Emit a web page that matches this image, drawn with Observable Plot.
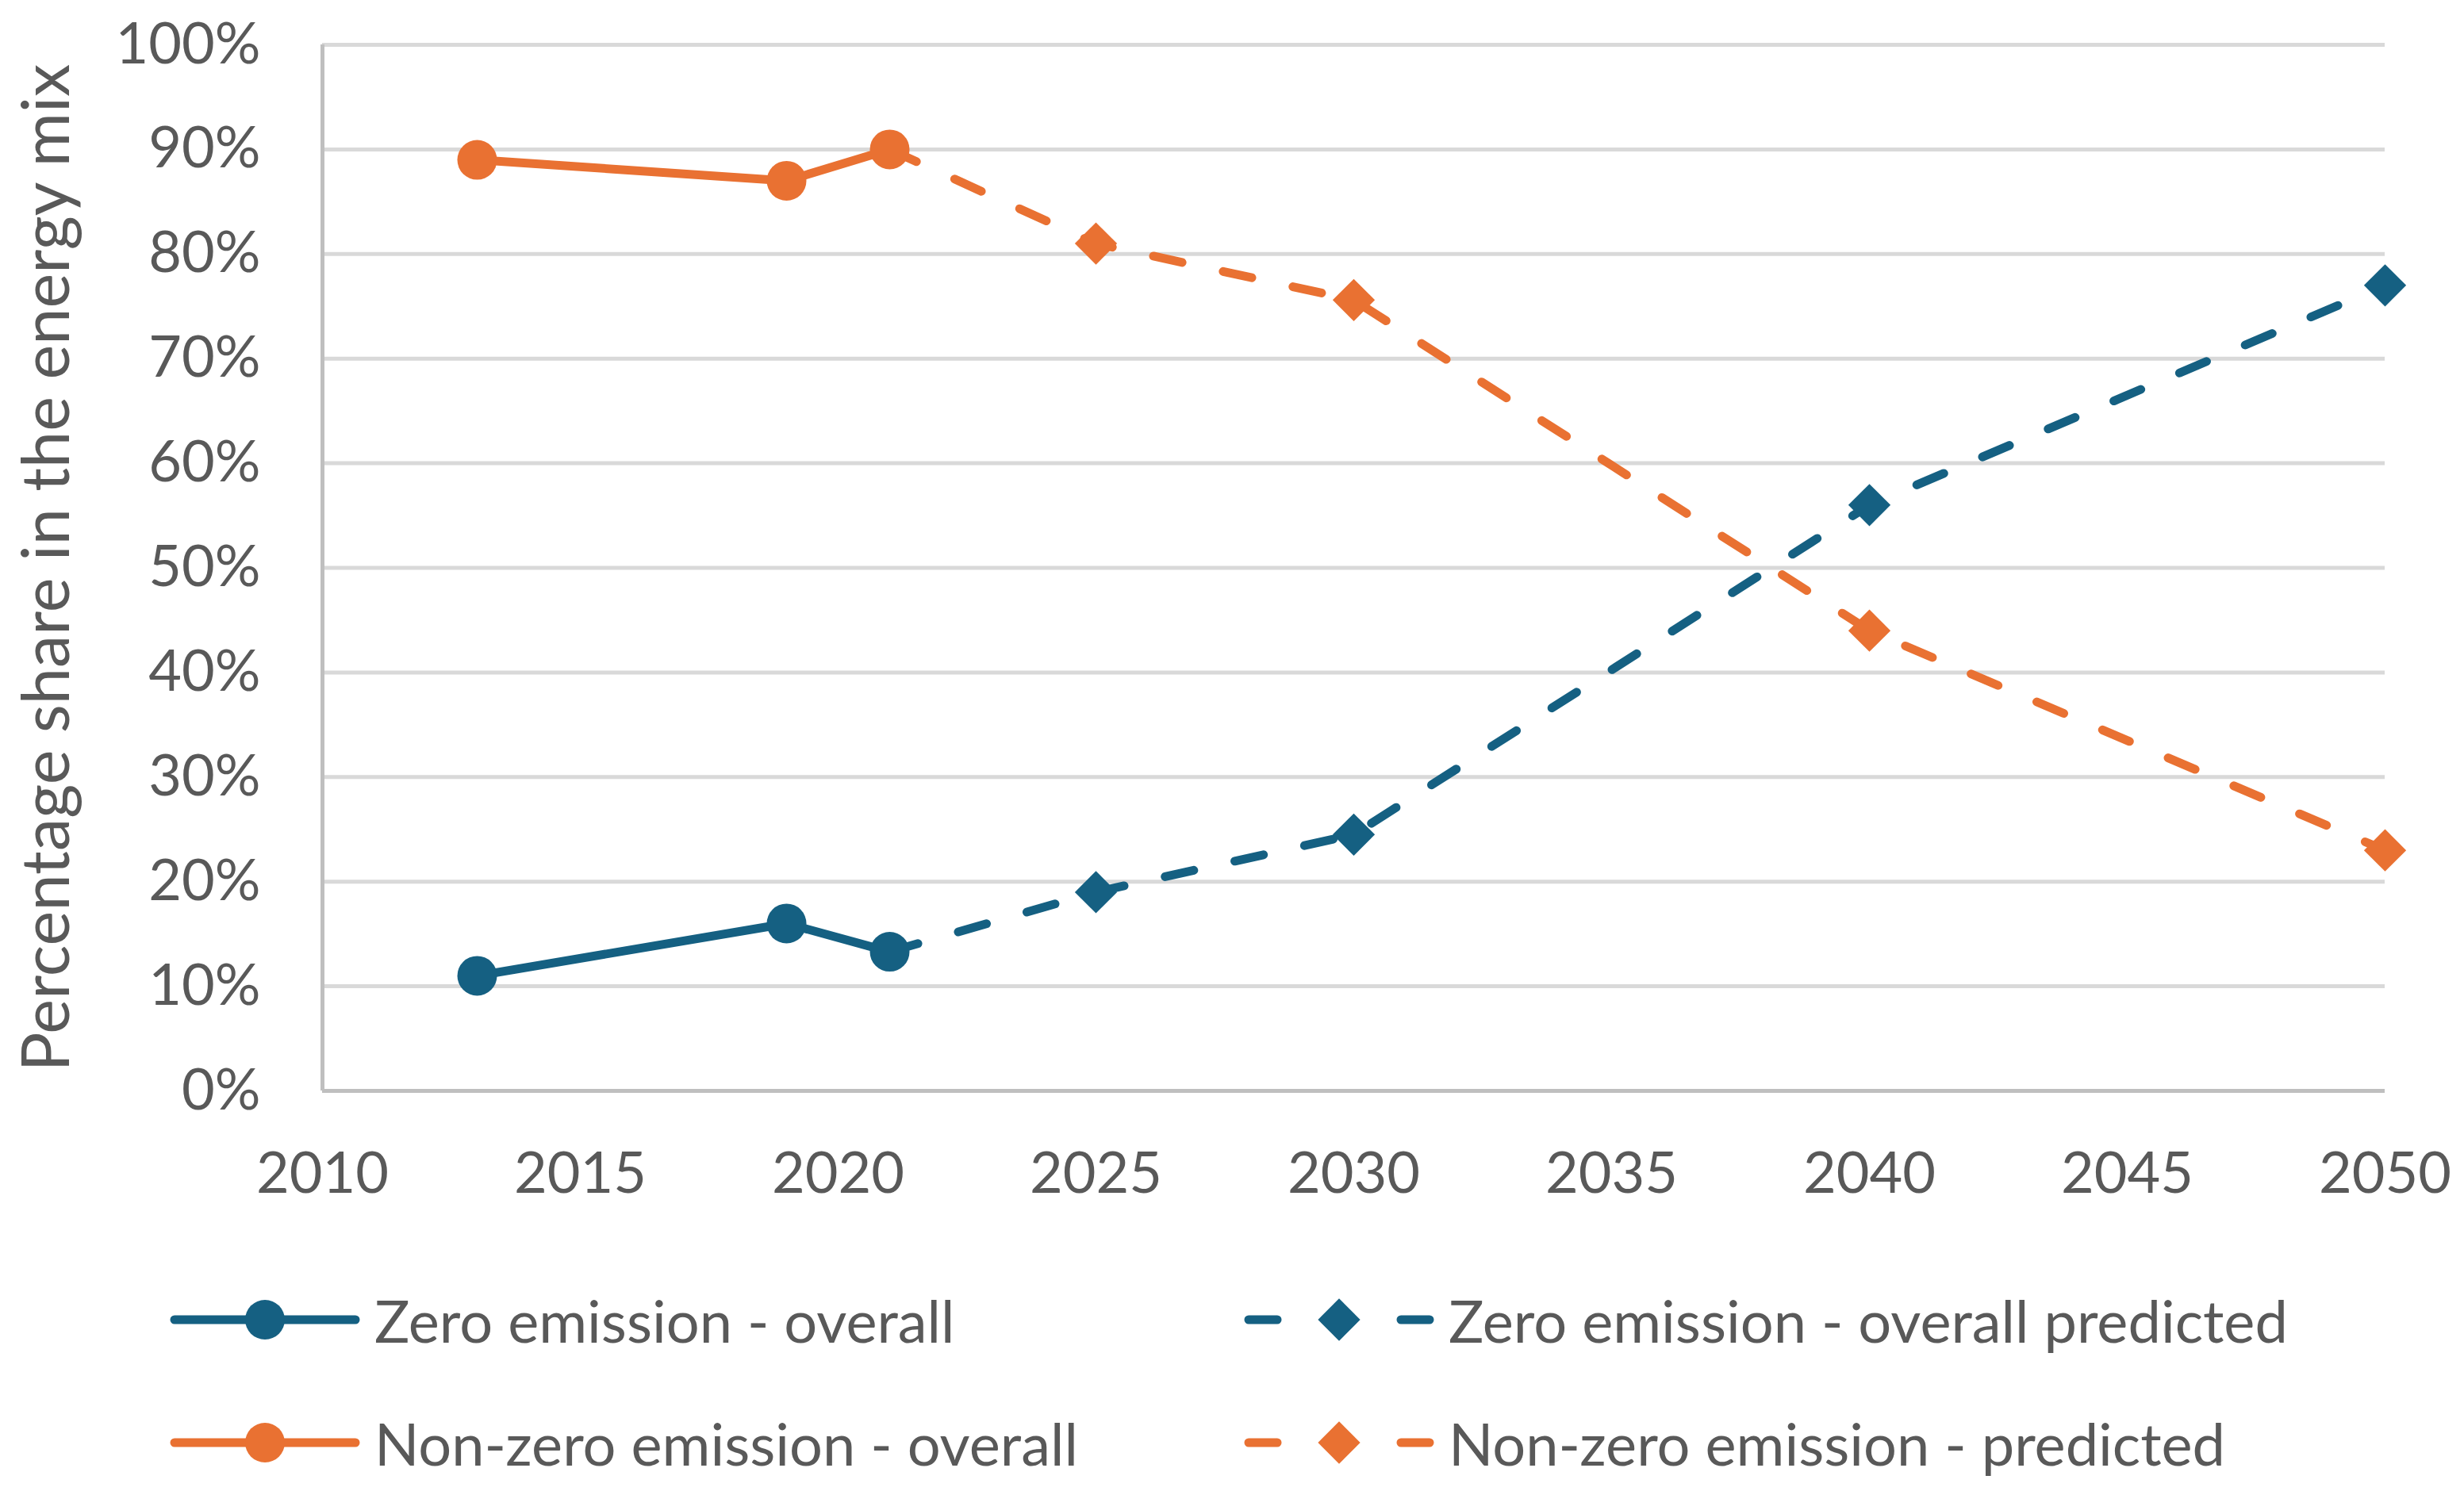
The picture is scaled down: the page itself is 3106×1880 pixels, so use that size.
<!DOCTYPE html>
<html>
<head>
<meta charset="utf-8">
<script src="https://cdn.jsdelivr.net/npm/d3@7"></script>
<script src="https://cdn.jsdelivr.net/npm/@observablehq/plot@0.6"></script>
<style>
  html, body { margin: 0; padding: 0; background: #fff; overflow: hidden; }
  #wrap { position: relative; width: 3106px; height: 1880px; font-family: Lato, "Open Sans", sans-serif; color: #595959; }
  #chart svg { display: block; }
  .leg { position: absolute; display: flex; align-items: center; height: 100px; font-size: 74px; white-space: nowrap; }
  .leg svg { display: block; }
</style>
</head>
<body>
<div id="wrap">
  <div id="chart"></div>
  <div id="legend"></div>
</div>
<script>
// ---- data ----
const yearsOverall = [2013, 2019, 2021];
const zeroOverall = [11, 16, 13.3];
const nonZeroOverall = [89, 87, 90];
const yearsPredicted = [2021, 2025, 2030, 2040, 2050];
const zeroPredicted = [13.3, 19, 24.5, 56, 77];
const nonZeroPredicted = [90, 81, 75.6, 44, 23];
const xTicks = [2010, 2015, 2020, 2025, 2030, 2035, 2040, 2045, 2050];
const yTicks = [0, 10, 20, 30, 40, 50, 60, 70, 80, 90, 100];
const seriesNames = [
  "Zero emission - overall",
  "Zero emission - overall predicted",
  "Non-zero emission - overall",
  "Non-zero emission - predicted"
];
const yTitle = "Percentage share in the energy mix";
const blue = "#156082";
const orange = "#E97132";

const toRows = (xs, ys) => xs.map((x, i) => ({x, y: ys[i]}));
const zo = toRows(yearsOverall, zeroOverall);
const zp = toRows(yearsPredicted, zeroPredicted);
const no = toRows(yearsOverall, nonZeroOverall);
const np = toRows(yearsPredicted, nonZeroPredicted);
const notFirst = (d, i) => i > 0;

const lw = 11;
const dash = "37,53";

const chart = Plot.plot({
  width: 3106,
  height: 1560,
  marginLeft: 406,
  marginRight: 100,
  marginTop: 56,
  marginBottom: 185,
  style: {fontSize: "72px", fontFamily: "Lato, 'Open Sans', sans-serif", color: "#595959", background: "#fff"},
  x: {domain: [2010, 2050]},
  y: {domain: [0, 100]},
  marks: [
    Plot.gridY(yTicks.filter(d => d > 0), {stroke: "#d9d9d9", strokeOpacity: 1, strokeWidth: 5}),
    Plot.ruleX([2010], {stroke: "#bfbfbf", strokeWidth: 5}),
    Plot.ruleY([0], {stroke: "#bfbfbf", strokeWidth: 5}),
    Plot.line(zo, {x: "x", y: "y", stroke: blue, strokeWidth: lw, strokeLinecap: "round"}),
    Plot.line(zp, {x: "x", y: "y", stroke: blue, strokeWidth: lw, strokeDasharray: dash, strokeLinecap: "round"}),
    Plot.line(no, {x: "x", y: "y", stroke: orange, strokeWidth: lw, strokeLinecap: "round"}),
    Plot.line(np, {x: "x", y: "y", stroke: orange, strokeWidth: lw, strokeDasharray: dash, strokeLinecap: "round"}),
    Plot.dot(zo, {x: "x", y: "y", r: 25, fill: blue, stroke: null}),
    Plot.dot(zp.filter(notFirst), {x: "x", y: "y", r: 24, symbol: "diamond2", fill: blue, stroke: null}),
    Plot.dot(no, {x: "x", y: "y", r: 25, fill: orange, stroke: null}),
    Plot.dot(np.filter(notFirst), {x: "x", y: "y", r: 24, symbol: "diamond2", fill: orange, stroke: null}),
    Plot.axisX({ticks: xTicks, tickSize: 0, tickPadding: 77, tickFormat: d => String(d), label: null}),
    Plot.axisY({ticks: yTicks, tickSize: 0, tickPadding: 78, tickFormat: d => d + "%", label: null}),
    Plot.axisY({ticks: [], tickSize: 0, fontSize: 83, label: yTitle, labelAnchor: "center", labelOffset: 378, labelArrow: false})
  ]
});
document.getElementById("chart").appendChild(chart);

// ---- legend ----
const legend = document.getElementById("legend");
const legItems = [
  {name: seriesNames[0], color: blue, dashed: false, left: 212, top: 1614},
  {name: seriesNames[1], color: blue, dashed: true, left: 1566, top: 1614},
  {name: seriesNames[2], color: orange, dashed: false, left: 212, top: 1769},
  {name: seriesNames[3], color: orange, dashed: true, left: 1566, top: 1769}
];
const ns = "http://www.w3.org/2000/svg";
for (const it of legItems) {
  const div = document.createElement("div");
  div.className = "leg";
  div.style.left = it.left + "px";
  div.style.top = it.top + "px";
  const svg = document.createElementNS(ns, "svg");
  svg.setAttribute("width", 244);
  svg.setAttribute("height", 100);
  const line = document.createElementNS(ns, "line");
  line.setAttribute("x1", 8); line.setAttribute("x2", 236);
  line.setAttribute("y1", 50); line.setAttribute("y2", 50);
  line.setAttribute("stroke", it.color);
  line.setAttribute("stroke-width", lw);
  line.setAttribute("stroke-linecap", "round");
  if (it.dashed) line.setAttribute("stroke-dasharray", "36,156");
  svg.appendChild(line);
  const sym = document.createElementNS(ns, "path");
  const gen = d3.symbol(it.dashed ? d3.symbolDiamond2 : d3.symbolCircle, it.dashed ? Math.PI * 576 : Math.PI * 625);
  sym.setAttribute("d", gen());
  sym.setAttribute("transform", "translate(122,50)");
  sym.setAttribute("fill", it.color);
  svg.appendChild(sym);
  div.appendChild(svg);
  const span = document.createElement("span");
  span.textContent = it.name;
  span.style.marginLeft = "16px";
  div.appendChild(span);
  legend.appendChild(div);
}
</script>
</body>
</html>
